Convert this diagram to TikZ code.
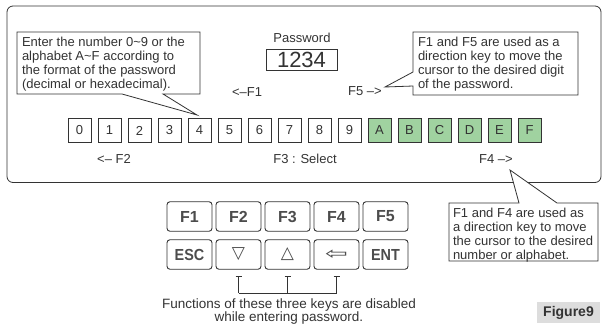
\documentclass[tikz,border=0pt]{standalone}
\usepackage{graphicx}
\usepackage{fontspec}
\setmainfont{Liberation Sans}
\newfontfamily\symfont{DejaVu Sans}
\usetikzlibrary{calc}
\definecolor{ln}{HTML}{333333}
\definecolor{gfill}{HTML}{A0D2A0}
\definecolor{figgray}{HTML}{DDDDDD}
\begin{document}
\begin{tikzpicture}[x=1pt,y=-1pt,
  every node/.style={inner sep=0pt, outer sep=0pt},
  frame/.style={draw=ln, line width=0.8pt},
  cell/.style={draw=ln, line width=0.8pt, minimum width=23pt, minimum height=24pt, font=\fontsize{13}{14}\selectfont, text=ln},
  hexcell/.style={cell, fill=gfill},
  lbl/.style={font=\fontsize{13}{14}\selectfont, text=ln},
  callout/.style={draw=ln, fill=white, line width=0.8pt},
  ctext/.style={font=\fontsize{13}{13.9}\selectfont, align=left, anchor=north west, text=ln},
  key/.style={draw=ln, line width=0.9pt, rounded corners=3pt, minimum width=45pt, minimum height=29.5pt, font=\fontsize{16}{16}\selectfont\bfseries, text=gray!60!black},
]
\useasboundingbox (0,0) rectangle (603,325);
% outer frame
\draw[frame, rounded corners=6pt] (7,6) rectangle (601,182.5);
% cells
\foreach \t [count=\i from 0] in {0,1,2,3,4,5,6,7,8,9}
  \node[cell] (c\i) at ({79.5+30*\i},130.5) {\t};
\foreach \t [count=\i from 10] in {A,B,C,D,E,F}
  \node[hexcell] (c\i) at ({79.5+30*\i},130.5) {\t};
% password
\node[lbl] (pwlabel) at (302,38) {Password};
\node[draw=ln, line width=0.8pt, minimum width=71pt, minimum height=21pt, font=\fontsize{22}{22}\selectfont, text=ln] (pw) at (301.5,60) {1234};
% labels
\node[lbl] (f1) at (247,92) {<–F1};
\node[lbl] (f5) at (365,91) {F5 –>};
\node[lbl] (f2) at (114,159) {<– F2};
\node[lbl] (f3) at (305,159) {F3 : Select};
\node[lbl] (f4) at (496,159) {F4 –>};
% callouts
\coordinate (tipL) at (197,115);
\coordinate (tipR) at (385,87);
\coordinate (tipB) at (510,170);
\draw[callout] (17,32) -- (200,32) -- (200,94) -- (163,94) -- (tipL) -- (122,94) -- (17,94) -- cycle;
\draw[callout] (413,32) -- (578,32) -- (578,95) -- (413,95) -- (413,86) -- (tipR) -- (413,72) -- cycle;
\draw[callout] (449,203) -- (519,203) -- (tipB) -- (557,203) -- (598,203) -- (598,261) -- (449,261) -- cycle;
\node[ctext] (tL) at (22,37) {Enter the number 0\textasciitilde 9 or the\\alphabet A\textasciitilde F according to\\the format of the password\\(decimal or hexadecimal).};
\node[ctext] (tR) at (418,37) {F1 and F5 are used as a\\direction key to move the\\cursor to the desired digit\\of the password.};
\node[ctext] (tB) at (453,208) {F1 and F4 are used as\\a direction key to move\\the cursor to the desired\\number or alphabet.};
% keypad
\foreach \t [count=\i from 0] in {F1,F2,F3,F4,F5}
  \node[key] (k\i) at ({189.5+49*\i},216.5) {\t};
\node[key] (kesc) at (189.5,254.5) {\scalebox{0.9}[1]{ESC}};
\node[key] (kdown) at (238.5,254.5) {\symfont\mdseries\fontsize{17}{17}\selectfont ▽};
\node[key] (kup) at (287.5,254.5) {\symfont\mdseries\fontsize{17}{17}\selectfont △};
\node[key] (kback) at (336.5,254.5) {\symfont\mdseries\fontsize{17}{17}\selectfont\scalebox{1.6}[1]{⇦}};
\node[key] (kent) at (385.5,254.5) {\scalebox{0.9}[1]{ENT}};
% bracket
\foreach \k in {kdown,kup,kback}{
  \draw[frame] ($(\k.south)+(-3,7.5)$) -- ($(\k.south)+(3,7.5)$);
  \draw[frame] ($(\k.south)+(0,7.5)$) -- ($(\k.south)+(0,24)$);
}
\draw[frame] ($(kdown.south)+(0,24)$) -- ($(kback.south)+(0,24)$);
\node[lbl, align=center, font=\fontsize{13.5}{13.5}\selectfont] (note) at (289,311.5) {Functions of these three keys are disabled\\while entering password.};
\node[fill=figgray, minimum width=63pt, minimum height=21pt, font=\fontsize{14}{14}\selectfont\bfseries, text=ln] (fig) at (568.5,312.5) {Figure9};
\end{tikzpicture}
\end{document}
